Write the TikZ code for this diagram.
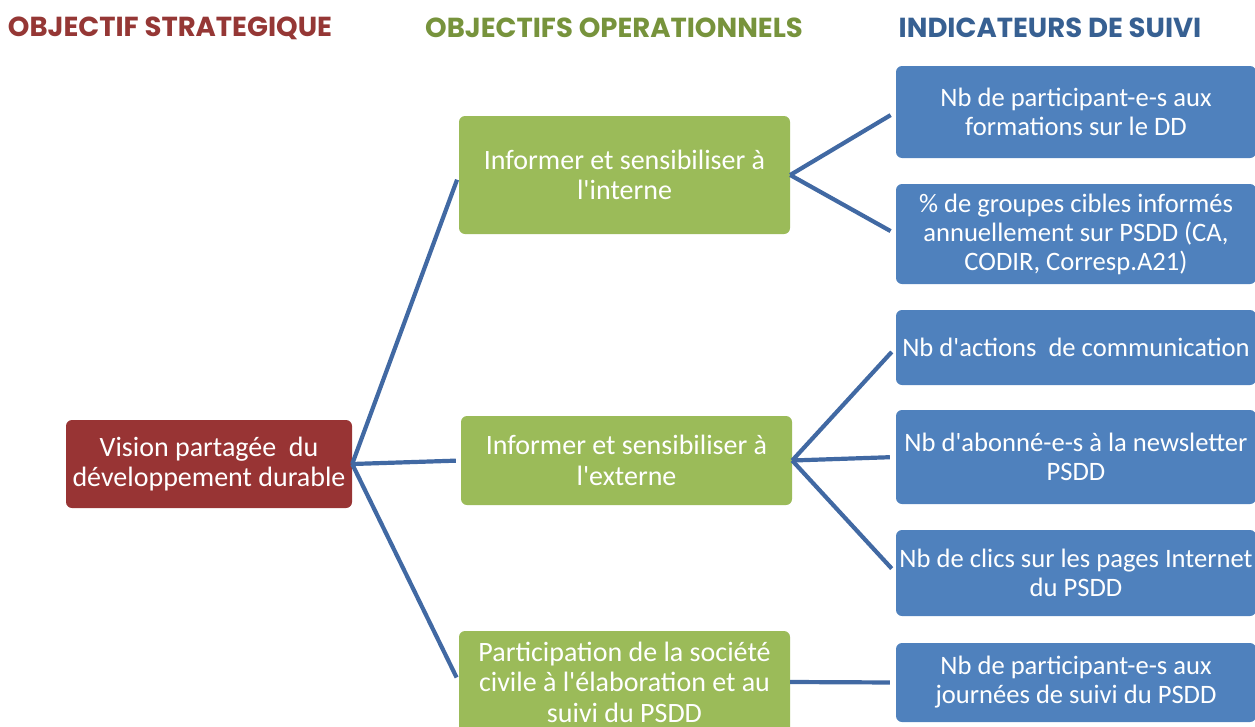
\documentclass[tikz,border=0pt]{standalone}
\usepackage{fontspec}
\setmainfont{Carlito}[Ligatures=TeXOff]
\newfontfamily\headfont{Poppins}
\definecolor{hred}{HTML}{953735}
\definecolor{hgreen}{HTML}{77933C}
\definecolor{hblue}{HTML}{376092}
\definecolor{bred}{HTML}{983434}
\definecolor{bgreen}{HTML}{9BBB59}
\definecolor{bblue}{HTML}{4F81BD}
\definecolor{lblue}{HTML}{4169A3}
\begin{document}
\begin{tikzpicture}[x=1pt,y=-1pt,
  box/.style={rounded corners=6pt, inner sep=0pt, align=center, text=white},
  redbox/.style={box, fill=bred, font=\fontsize{28}{30.5}\selectfont},
  greenbox/.style={box, fill=bgreen, font=\fontsize{28}{30.5}\selectfont},
  bluebox/.style={box, fill=bblue, font=\fontsize{26.6}{29}\selectfont},
  head/.style={font=\headfont\bfseries\fontsize{27.5}{30}\selectfont, inner sep=0pt},
  link/.style={draw=lblue, line width=4.2pt}
]
\useasboundingbox (0,0) rectangle (1255,726);
\clip (0,0) rectangle (1255,726);

\node[head, text=hred] (h1) at (170,28) {OBJECTIF STRATEGIQUE};
\node[head, text=hgreen] (h2) at (614,28) {OBJECTIFS OPERATIONNELS};
\node[head, text=hblue] (h3) at (1050,28) {INDICATEURS DE SUIVI};

\node[redbox, minimum width=286pt, minimum height=88pt] (r) at (209,464)
  {Vision partagée ~du\\développement durable};

\node[greenbox, minimum width=331pt, minimum height=118pt] (g1) at (624.5,175)
  {Informer et sensibiliser à\\l'interne};
\node[greenbox, minimum width=331pt, minimum height=89pt] (g2) at (626.5,460.5)
  {Informer et sensibiliser à\\l'externe};
\node[greenbox, minimum width=331pt, minimum height=102pt] (g3) at (624.5,682)
  {Participation de la société\\civile à l'élaboration et au\\suivi du PSDD};

\node[bluebox, minimum width=360pt, minimum height=92pt] (b1) at (1076,112)
  {Nb de participant-e-s aux\\formations sur le DD};
\node[bluebox, minimum width=360pt, minimum height=100pt] (b2) at (1076,234)
  {\% de groupes cibles informés\\annuellement sur PSDD (CA,\\CODIR, Corresp.A21)};
\node[bluebox, minimum width=360pt, minimum height=75pt] (b3) at (1076,347.5)
  {Nb d'actions ~de communication};
\node[bluebox, minimum width=360pt, minimum height=94pt] (b4) at (1076,457)
  {Nb d'abonné-e-s à la newsletter\\PSDD};
\node[bluebox, minimum width=360pt, minimum height=86pt] (b5) at (1076,573)
  {Nb de clics sur les pages Internet\\du PSDD};
\node[bluebox, minimum width=360pt, minimum height=79pt] (b6) at (1076,682.5)
  {Nb de participant-e-s aux\\journées de suivi du PSDD};

\draw[link, shorten >=5pt] (r.east) -- (g1.west);
\draw[link, shorten >=5pt] (r.east) -- (g2.west);
\draw[link, shorten >=5pt] (r.east) -- (g3.west);
\draw[link, shorten >=6pt] (g1.east) -- (b1.west);
\draw[link, shorten >=6pt] (g1.east) -- (b2.west);
\draw[link, shorten >=6pt] (g2.east) -- (b3.west);
\draw[link, shorten >=6pt] (g2.east) -- (b4.west);
\draw[link, shorten >=6pt] (g2.east) -- (b5.west);
\draw[link, shorten >=6pt] (g3.east) -- (b6.west);
\end{tikzpicture}
\end{document}
